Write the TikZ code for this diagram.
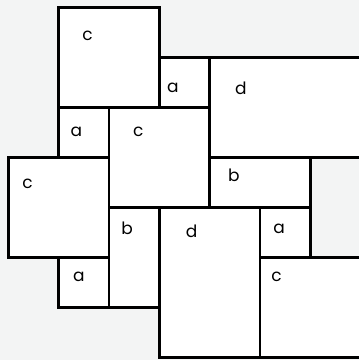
\documentclass[tikz,border=0pt]{standalone}
\usepackage{fontspec}
\setmainfont{Poppins}
\usepackage{tikz}
\usetikzlibrary{positioning}

\definecolor{bggray}{RGB}{243,244,244}

\begin{document}
\begin{tikzpicture}[
    x=1pt,
    y=-1pt,
    tile/.style={draw=black, fill=white, line width=2.6pt},
    lbl/.style={inner sep=0pt, anchor=base, font=\fontsize{17}{17}\selectfont}
]

% Canvas
\useasboundingbox (0,0) rectangle (359,360);
\fill[bggray] (0,0) rectangle (359,360);
\clip (0,0) rectangle (359,360);

\begin{scope}[shift={(8.5,7.3)}, x=50.3pt, y=-50.05pt]

% Row 1
\draw[tile] (1,0) rectangle (3,2);
\draw[tile] (3,1) rectangle (4,2);
\draw[tile] (4,1) rectangle (7,3);


% Row 2
\draw[tile] (1,2) rectangle (2,3);
\draw[tile] (2,2) rectangle (4,4);
\draw[tile] (0,3) rectangle (2,5);
\draw[tile] (4,3) rectangle (6,4);


% Row 3
\draw[tile] (2,4) rectangle (3,6);
\draw[tile] (1,5) rectangle (2,6);
\draw[tile] (3,4) rectangle (5,7);
\draw[tile] (5,4) rectangle (6,5);
\draw[tile] (5,5) rectangle (7,7);


% Labels
\node[lbl] (c1) at (1.57,0.67) {c};
\node[lbl] (a1) at (3.27,1.71) {a};
\node[lbl] (d1) at (4.62,1.75) {d};

\node[lbl] (a2) at (1.35,2.59) {a};
\node[lbl] (c2) at (2.58,2.59) {c};
\node[lbl] (c3) at (0.38,3.62) {c};
\node[lbl] (b2) at (4.48,3.49) {b};

\node[lbl] (b1) at (2.36,4.53) {b};
\node[lbl] (d2) at (3.64,4.59) {d};
\node[lbl] (a4) at (5.38,4.51) {a};
\node[lbl] (a3) at (1.40,5.47) {a};
\node[lbl] (c4) at (5.33,5.47) {c};

\end{scope}

\end{tikzpicture}
\end{document}
